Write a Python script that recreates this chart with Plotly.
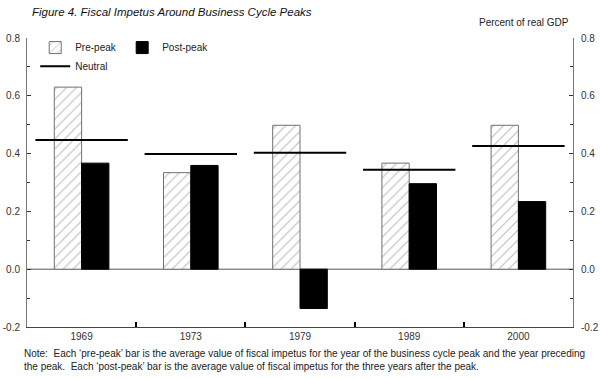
import plotly.graph_objects as go

# ---- data ----
years = ["1969", "1973", "1979", "1989", "2000"]
pre_peak = [0.63, 0.334, 0.498, 0.367, 0.498]
post_peak = [0.367, 0.359, -0.136, 0.296, 0.234]
neutral = [0.447, 0.399, 0.403, 0.344, 0.426]
y_tick_vals = [-0.2, 0.0, 0.2, 0.4, 0.6, 0.8]
y_tick_labels = ["-0.2", "0.0", "0.2", "0.4", "0.6", "0.8"]

title_text = "Figure 4. Fiscal Impetus Around Business Cycle Peaks"
unit_text = "Percent of real GDP"
note_text = ("Note:  Each \u2018pre-peak\u2019 bar is the average value of fiscal impetus for the year of the business cycle peak and the year preceding<br>"
             "the peak.  Each \u2018post-peak\u2019 bar is the average value of fiscal impetus for the three years after the peak.")

FONT = "Liberation Sans, Arial, sans-serif"

fig = go.Figure()
fig.add_trace(go.Bar(
    x=years, y=pre_peak, name="Pre-peak",
    marker=dict(color="white", line=dict(color="#707070", width=1),
                pattern=dict(shape="/", fgcolor="#7a7a7a", bgcolor="white", size=7, solidity=0.16)),
    legend="legend",
))
fig.add_trace(go.Bar(
    x=years, y=post_peak, name="Post-peak",
    marker=dict(color="black", line=dict(color="black", width=1)),
    legend="legend",
))
fig.add_trace(go.Scatter(
    x=years, y=neutral, mode="markers", name="Neutral", showlegend=False,
    marker=dict(symbol="line-ew", size=66, line=dict(color="black", width=2)),
    yaxis="y2", hoverinfo="skip",
))
# legend proxy for the neutral line
fig.add_trace(go.Scatter(
    x=[None], y=[None], mode="lines", name="Neutral",
    line=dict(color="black", width=2), legend="legend2",
))

yaxis_common = dict(
    range=[-0.2, 0.8], tickmode="array", tickvals=y_tick_vals, ticktext=y_tick_labels,
    ticks="inside", ticklen=4, tickwidth=1, tickcolor="#333",
    minor=dict(dtick=0.1, tick0=0, ticks="inside", ticklen=3, tickcolor="#333"),
    showline=True, linecolor="#777", linewidth=1,
    showgrid=False, zeroline=False, automargin=False,
    tickfont=dict(family=FONT, size=10, color="#333"),
    fixedrange=True,
)

fig.update_layout(
    width=600, height=379,
    margin=dict(l=27, r=27, t=38, b=52, autoexpand=False),
    paper_bgcolor="white", plot_bgcolor="white",
    barmode="group", bargap=0.5, bargroupgap=0,
    font=dict(family=FONT, size=10, color="#222"),
    showlegend=True,
    xaxis=dict(
        type="category", range=[-0.5, len(years) - 0.5],
        tickson="boundaries", ticks="inside", ticklen=5, tickwidth=2,
        tickcolor="black", showline=True, linecolor="#444", linewidth=1,
        showgrid=False, automargin=False, fixedrange=True,
        tickfont=dict(family=FONT, size=10, color="#333"),
    ),
    yaxis=dict(**yaxis_common, side="left", ticklabelstandoff=4),
    yaxis2=dict(**yaxis_common, side="right", overlaying="y", anchor="x", ticklabelstandoff=5),
    legend=dict(orientation="h", x=0.015, xanchor="left", y=1.017, yanchor="top",
                font=dict(family=FONT, size=10, color="#222"), bgcolor="rgba(0,0,0,0)",
                entrywidth=42, entrywidthmode="pixels", traceorder="normal"),
    legend2=dict(orientation="h", x=0.015, xanchor="left", y=0.952, yanchor="top",
                 font=dict(family=FONT, size=10, color="#222"), bgcolor="rgba(0,0,0,0)"),
    shapes=[dict(type="line", xref="paper", yref="y", x0=0, x1=1, y0=0, y1=0,
                 line=dict(color="#555", width=1), layer="below")],
    annotations=[
        dict(text="<i>" + title_text + "</i>", xref="paper", yref="paper", x=0.0055, y=1.09,
             xanchor="left", yanchor="middle", showarrow=False,
             font=dict(family=FONT, size=11.5, color="#111")),
        dict(text=unit_text, xref="paper", yref="paper", x=0.997, y=1.055,
             xanchor="right", yanchor="middle", showarrow=False,
             font=dict(family=FONT, size=10, color="#222")),
        dict(text=note_text, xref="paper", yref="paper", x=-0.01, y=-0.065,
             xanchor="left", yanchor="top", align="left", showarrow=False,
             font=dict(family=FONT, size=10, color="#222")),
    ],
)

fig.write_html("out.html", config={"displayModeBar": False},
               post_script="document.body.style.margin='0';document.body.style.padding='0';")
